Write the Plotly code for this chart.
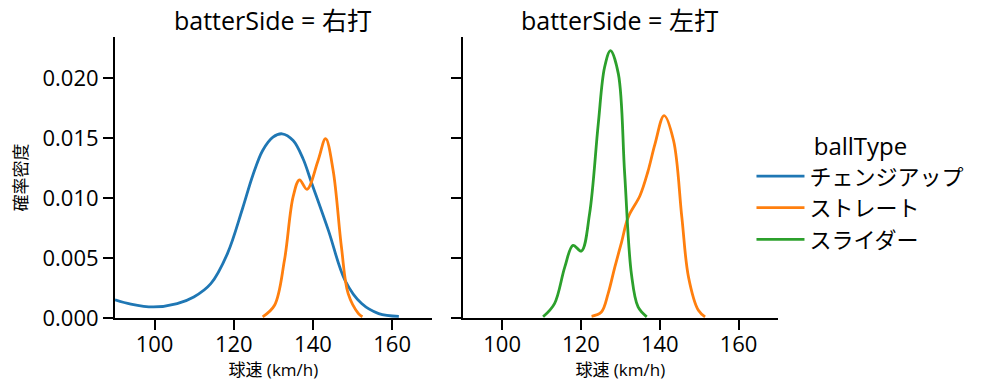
import plotly.graph_objects as go

# ---- data (speed km/h, density) ----
panels = ["右打", "左打"]
ball_types = ["チェンジアップ", "ストレート", "スライダー"]
colors = ["#1f77b4", "#ff7f0e", "#2ca02c"]

# 右打
r_change_x = [90, 94, 99.7, 105.7, 109.9, 114.2, 118.4, 122.2, 124.8, 127.3, 129.9,
              132.2, 135.0, 137.5, 139.6, 143.9, 148.1, 152.3, 156.6, 161.7]
r_change_y = [0.00152, 0.00116, 0.00092, 0.00120, 0.00175, 0.00286, 0.00536, 0.0091,
              0.01187, 0.01395, 0.01506, 0.01534, 0.01478, 0.01326, 0.01131, 0.0073,
              0.00314, 0.00120, 0.00037, 0.00014]
r_straight_x = [127.3, 130.3, 132.8, 135.0, 136.6, 138.5, 141.3, 143.2, 145.1, 147.2,
                148.9, 151.5, 152.5]
r_straight_y = [0.0001, 0.00106, 0.0048, 0.0101, 0.01151, 0.01072, 0.01312, 0.01493,
                0.01229, 0.0059, 0.00203, 0.00037, 0.0001]

# 左打
l_straight_x = [122.7, 125.2, 126.9, 128.6, 130.3, 132.0, 135.0, 137.0, 138.8, 141.1,
                143.5, 145.6, 147.3, 149.8, 151.5]
l_straight_y = [0.00014, 0.0005, 0.00203, 0.00424, 0.0063, 0.0084, 0.0102, 0.0122,
                0.0145, 0.01686, 0.01478, 0.0084, 0.0034, 0.00064, 0.0001]
l_slider_x = [110.4, 113.3, 115.9, 118.0, 120.1, 122.2, 124.4, 126.0, 127.5, 129.5,
              131.1, 132.8, 134.5, 136.7]
l_slider_y = [0.0001, 0.0012, 0.00424, 0.00605, 0.00557, 0.00869, 0.01617, 0.02088,
              0.02227, 0.02033, 0.0120, 0.0037, 0.00092, 0.0001]

x_ticks = [100, 120, 140, 160]
y_ticks = [0.000, 0.005, 0.010, 0.015, 0.020]
x_range = [90, 170]
y_range = [0, 0.0234]

FONT = "Open Sans, Noto Sans CJK JP"

fig = go.Figure()
series = [
    (r_change_x, r_change_y, 0, "x", "y", True),
    (r_straight_x, r_straight_y, 1, "x", "y", True),
    (l_straight_x, l_straight_y, 1, "x2", "y2", False),
    (l_slider_x, l_slider_y, 2, "x2", "y2", True),
]
for xs, ys, ci, xa, ya, show in series:
    fig.add_trace(go.Scatter(
        x=xs, y=ys, mode="lines", name=ball_types[ci],
        line=dict(color=colors[ci], width=2.8, shape="spline", smoothing=1.0),
        xaxis=xa, yaxis=ya, showlegend=show, legendgroup=ball_types[ci],
        legendrank=ci,
    ))

axis_common = dict(
    showline=True, linecolor="black", linewidth=2, ticks="outside", ticklen=10,
    tickwidth=2, tickcolor="black", showgrid=False, zeroline=False,
    tickfont=dict(family=FONT, size=22, color="black"),
)
xtitle = dict(text="球速 (km/h)", font=dict(size=17, family=FONT), standoff=2)
fig.update_layout(
    width=1002, height=391,
    margin=dict(l=115, r=224, t=37, b=73),
    paper_bgcolor="white", plot_bgcolor="white",
    font=dict(family=FONT, color="black"),
    xaxis=dict(domain=[0, 0.4777], range=x_range, tickvals=x_ticks, anchor="y",
               title=xtitle, ticklabelstandoff=-4, **axis_common),
    xaxis2=dict(domain=[0.5244, 1], range=x_range, tickvals=x_ticks, anchor="y2",
                title=xtitle, ticklabelstandoff=-4, **axis_common),
    yaxis=dict(range=y_range, tickvals=y_ticks, tickformat=".3f",
               title=dict(text="確率密度", font=dict(size=17, family=FONT), standoff=11),
               **axis_common),
    yaxis2=dict(range=y_range, tickvals=y_ticks, showticklabels=False,
                anchor="x2", matches="y", **axis_common),
    legend=dict(
        title=dict(text="ballType", font=dict(size=24, family=FONT), side="top center"),
        font=dict(size=22, family=FONT), x=0.96, xanchor="left",
        y=0.69, yanchor="top", itemwidth=48, tracegroupgap=0,
        bgcolor="rgba(0,0,0,0)",
    ),
)

for i, p in enumerate(panels):
    dom = fig.layout.xaxis.domain if i == 0 else fig.layout.xaxis2.domain
    fig.add_annotation(
        text=f"batterSide = {p}", xref="paper", yref="paper",
        x=(dom[0] + dom[1]) / 2, y=1 + 17 / 281, xanchor="center", yanchor="middle",
        showarrow=False, font=dict(family=FONT, size=25, color="black"),
    )

fig.write_html("out.html", config={"displayModeBar": False},
               post_script="document.body.style.margin='0px';")
